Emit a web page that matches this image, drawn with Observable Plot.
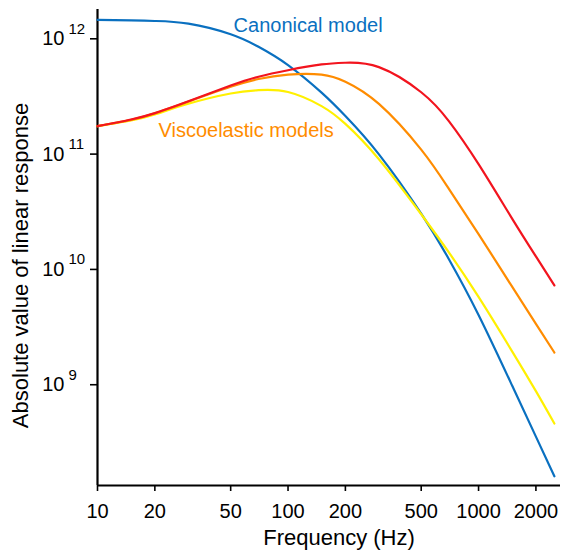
<!DOCTYPE html>
<html><head><meta charset="utf-8">
<script src="https://cdn.jsdelivr.net/npm/d3@7"></script>
<script src="https://cdn.jsdelivr.net/npm/@observablehq/plot@0.6"></script>
<style>body{margin:0;background:#fff} svg{display:block}</style>
</head><body><div id="chart"></div>
<script>
// Frequencies (Hz) at which curves were read
const freqs = [10, 15, 20, 30, 50, 70, 100, 150, 200, 300, 500, 700, 1000, 1500, 2000, 2500];
// Absolute value of linear response
const canonical = [1.462e12, 1.447e12, 1.427e12, 1.352e12, 1.094e12, 8.52e11, 5.91e11, 3.41e11, 2.14e11, 9.96e10, 3.05e10, 1.221e10, 4.03e9, 9.84e8, 3.55e8, 1.606e8];
const viscoYellow = [1.746e11, 1.956e11, 2.205e11, 2.736e11, 3.355e11, 3.583e11, 3.457e11, 2.609e11, 1.828e11, 9.03e10, 3.01e10, 1.399e10, 5.77e9, 1.949e9, 8.8e8, 4.61e8];
const viscoOrange = [1.746e11, 1.984e11, 2.254e11, 2.853e11, 3.834e11, 4.48e11, 4.893e11, 4.893e11, 4.245e11, 2.725e11, 1.094e11, 4.97e10, 2.02e10, 7.09e9, 3.375e9, 1.902e9];
const viscoRed = [1.746e11, 1.995e11, 2.268e11, 2.87e11, 3.93e11, 4.69e11, 5.34e11, 5.99e11, 6.2e11, 5.68e11, 3.44e11, 1.925e11, 8.19e10, 2.76e10, 1.296e10, 7.26e9];

const seriesNames = ["Canonical", "Visco yellow", "Visco orange", "Visco red"];
const seriesColors = ["#0a70c0", "#fff000", "#ff8c00", "#f2141e"];
const seriesValues = [canonical, viscoYellow, viscoOrange, viscoRed];

const xTicks = [10, 20, 50, 100, 200, 500, 1000, 2000];
const yTicks = [1e9, 1e10, 1e11, 1e12];
const xDomain = [10, 2692];
const yDomain = [1.337e8, 1.795e12];

const labelTexts = ["Canonical model", "Viscoelastic models"];
const labelFreqs = [51.8, 20.9];
const labelValues = [1.146e12, 1.41e11];
const labelColors = ["#0a70c0", "#ff8c00"];

const rows = [];
seriesValues.forEach((vals, s) => {
  vals.forEach((v, i) => rows.push({series: seriesNames[s], f: freqs[i], v}));
});
const labels = labelTexts.map((t, i) => ({text: t, f: labelFreqs[i], v: labelValues[i], color: labelColors[i]}));

const font = "'Liberation Sans', Arial, Helvetica, sans-serif";

const chart = Plot.plot({
  width: 563,
  height: 552,
  marginLeft: 97,
  marginRight: 3,
  marginTop: 9,
  marginBottom: 67,
  style: {fontFamily: font, background: "#fff", color: "#000"},
  x: {type: "log", domain: xDomain},
  y: {type: "log", domain: yDomain},
  color: {domain: seriesNames, range: seriesColors},
  marks: [
    Plot.axisX(xTicks, {tickSize: 6, strokeWidth: 1.6, tickFormat: () => "", label: null}),
    Plot.text(xTicks, {x: d => d, frameAnchor: "bottom", dy: 18, lineAnchor: "top", textAnchor: "middle", text: d => String(d), fontSize: 20}),
    Plot.axisY(yTicks, {tickSize: 7, strokeWidth: 1.6, tickFormat: () => "", label: null}),
    Plot.text(yTicks, {y: d => d, frameAnchor: "left", dx: -33, text: () => "10", textAnchor: "end", lineAnchor: "middle", fontSize: 20}),
    Plot.text(yTicks, {y: d => d, frameAnchor: "left", dx: -29, dy: -10, text: d => String(Math.round(Math.log10(d))), textAnchor: "start", lineAnchor: "middle", fontSize: 15}),
    Plot.ruleX([xDomain[0]], {strokeWidth: 2.2}),
    Plot.ruleY([yDomain[0]], {strokeWidth: 2.2}),
    Plot.line(rows, {x: "f", y: "v", stroke: "series", z: "series", strokeWidth: 2.2, curve: "natural"}),
    Plot.text(labels, {x: "f", y: "v", text: "text", fill: d => d.color, textAnchor: "start", lineAnchor: "bottom", fontSize: 20}),
    Plot.text(["Frequency (Hz)"], {frameAnchor: "bottom", dx: 10, dy: 44, lineAnchor: "top", textAnchor: "middle", fontSize: 22}),
    Plot.text(["Absolute value of linear response"], {frameAnchor: "left", dx: -77, dy: 18, rotate: -90, textAnchor: "middle", lineAnchor: "middle", fontSize: 22})
  ]
});
document.getElementById("chart").append(chart);
</script>
</body></html>
